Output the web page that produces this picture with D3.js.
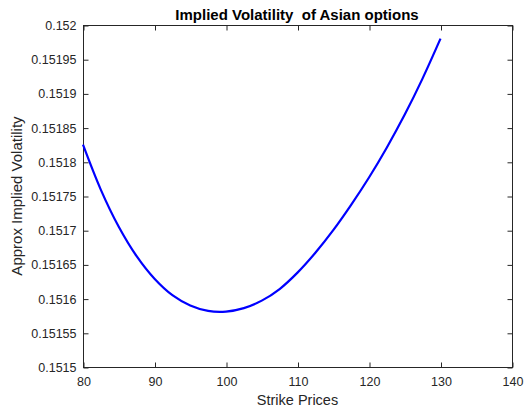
<!DOCTYPE html>
<html><head><meta charset="utf-8">
<script src="https://cdn.jsdelivr.net/npm/d3@7"></script>
<style>html,body{margin:0;padding:0;background:#fff;}svg{display:block;}</style>
</head><body>
<script>
const strikes = [80, 82.5, 85, 87.5, 90, 92.5, 95, 97.5, 100, 102.5, 105, 107.5, 110, 112.5, 115, 117.5, 120, 122.5, 125, 127.5, 130];
const impliedVol = [0.151825, 0.151759, 0.151705, 0.151662, 0.151629, 0.151605, 0.151590, 0.151582, 0.151581, 0.151586, 0.151597, 0.151614, 0.151638, 0.151667, 0.151700, 0.151737, 0.151777, 0.151821, 0.151869, 0.151922, 0.151980];
const xTicks = [80, 90, 100, 110, 120, 130, 140];
const yTicks = [0.1515, 0.15155, 0.1516, 0.15165, 0.1517, 0.15175, 0.1518, 0.15185, 0.1519, 0.15195, 0.152];
const yTickLabels = ["0.1515", "0.15155", "0.1516", "0.15165", "0.1517", "0.15175", "0.1518", "0.15185", "0.1519", "0.15195", "0.152"];
const titleText = "Implied Volatility  of Asian options";
const xLabel = "Strike Prices";
const yLabel = "Approx Implied Volatility";

const W = 524, H = 412;
const m = {left: 83, right: 12, top: 25, bottom: 45};
const svg = d3.select("body").append("svg").attr("width", W).attr("height", H);
const font = "'Liberation Sans', Arial, Helvetica, sans-serif";

const x = d3.scaleLinear().domain([80, 140]).range([m.left, W - m.right]);
const y = d3.scaleLinear().domain([0.1515, 0.152]).range([H - m.bottom, m.top]);
const tc = "#262626";

// box
svg.append("rect").attr("x", m.left + 0.5).attr("y", m.top + 0.5)
  .attr("width", x(140) - m.left).attr("height", y(0.1515) - m.top)
  .attr("fill", "none").attr("stroke", tc).attr("stroke-width", 1);

const xAxis = svg.append("g").attr("transform", `translate(0.5,${y(0.1515) + 0.5})`)
  .call(d3.axisBottom(x).tickValues(xTicks).tickSize(-5).tickPadding(10).tickFormat(d3.format("d")));
const xTop = svg.append("g").attr("transform", `translate(0.5,${m.top + 0.5})`)
  .call(d3.axisTop(x).tickValues(xTicks).tickSize(-5).tickFormat(""));
const yAxis = svg.append("g").attr("transform", `translate(${m.left + 0.5},0.5)`)
  .call(d3.axisLeft(y).tickValues(yTicks).tickSize(-5).tickPadding(7).tickFormat((d, i) => yTickLabels[i]));
const yRight = svg.append("g").attr("transform", `translate(${x(140) + 0.5},0.5)`)
  .call(d3.axisRight(y).tickValues(yTicks).tickSize(-5).tickFormat(""));

[xAxis, xTop, yAxis, yRight].forEach(g => {
  g.select(".domain").remove();
  g.selectAll("line").attr("stroke", tc);
  g.selectAll("text").attr("fill", tc).style("font-family", font).style("font-size", "12.5px");
});

const line = d3.line().x((d, i) => x(strikes[i])).y(d => y(d)).curve(d3.curveCatmullRom);
svg.append("path").datum(impliedVol).attr("d", line)
  .attr("fill", "none").attr("stroke", "#0000ff").attr("stroke-width", 2.2).attr("stroke-linejoin", "round");

svg.append("text").attr("x", 297).attr("y", 20)
  .attr("text-anchor", "middle").attr("font-weight", "bold").attr("fill", "#000")
  .style("font-family", font).style("font-size", "15px").style("white-space", "pre").text(titleText);
svg.append("text").attr("x", (m.left + x(140)) / 2).attr("y", 405)
  .attr("text-anchor", "middle").attr("fill", tc)
  .style("font-family", font).style("font-size", "14.5px").text(xLabel);
svg.append("text").attr("transform", `translate(22,${(m.top + y(0.1515)) / 2}) rotate(-90)`)
  .attr("text-anchor", "middle").attr("fill", tc)
  .style("font-family", font).style("font-size", "15px").text(yLabel);
</script>
</body></html>
